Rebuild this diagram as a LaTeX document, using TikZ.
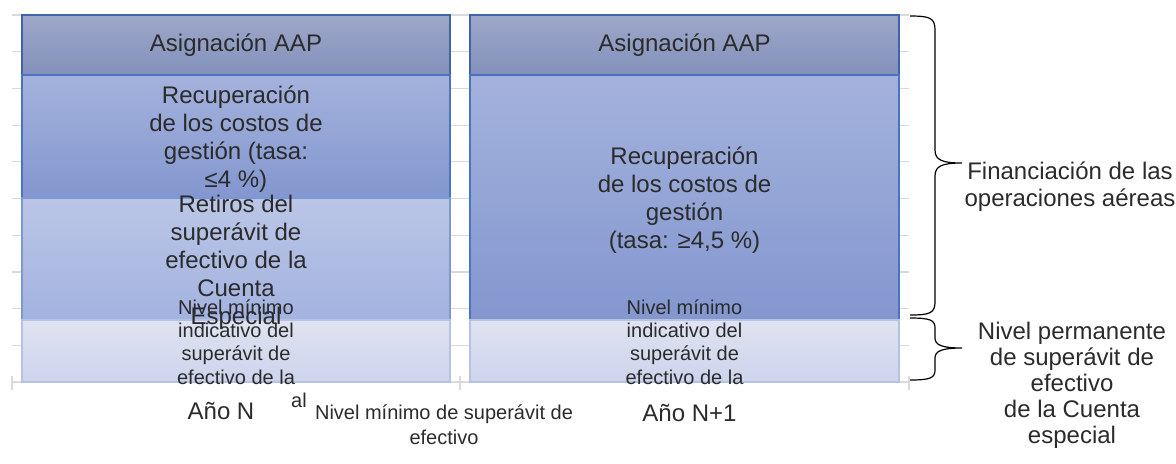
\documentclass[tikz,border=0pt]{standalone}
\usepackage{fontspec}
\setmainfont{Liberation Sans}
\definecolor{txtc}{HTML}{2B2B2B}
\definecolor{gridc}{HTML}{DADADA}
\definecolor{aapT}{HTML}{9DA7C8}
\definecolor{aapB}{HTML}{8391BB}
\definecolor{aapD}{HTML}{3F62A8}
\definecolor{recT}{HTML}{A4B2DC}
\definecolor{recB}{HTML}{8397CF}
\definecolor{recD}{HTML}{4A73C2}
\definecolor{retT}{HTML}{BBC6E6}
\definecolor{retB}{HTML}{A3B3E0}
\definecolor{retD}{HTML}{7A97D6}
\definecolor{nivT}{HTML}{DFE3F1}
\definecolor{nivB}{HTML}{CDD4EC}
\definecolor{nivD}{HTML}{B4C2E6}
\tikzset{
  txt/.style={inner sep=0pt, align=center, text=txtc, font=\fontsize{12}{14}\selectfont},
  smalltxt/.style={inner sep=0pt, align=center, text=txtc, font=\fontsize{10}{11.7}\selectfont},
  aapbox/.style={draw=aapD, line width=0.6pt, top color=aapT, bottom color=aapB},
  recbox/.style={draw=recD, line width=0.6pt, top color=recT, bottom color=recB},
  retbox/.style={draw=retD, line width=0.6pt, top color=retT, bottom color=retB},
  nivbox/.style={draw=nivD, line width=0.6pt, top color=nivT, bottom color=nivB},
  gridline/.style={draw=gridc, line width=0.6pt},
  bracepath/.style={draw=black, line width=0.6pt},
}
\begin{document}
\begin{tikzpicture}[x=0.5pt, y=-0.5pt]
\useasboundingbox (0,0) rectangle (1176,463);
% grid
\foreach \i in {0,...,9} {
  \draw[gridline] (12,15+36.7*\i) -- (909,15+36.7*\i);
}
% axis
\draw[gridline] (12,382) -- (909,382);
\foreach \xx in {12,460,909} { \draw[gridline] (\xx,376) -- (\xx,390); }
% left bar
\draw[aapbox] (22,15) rectangle (450,75);
\draw[recbox] (22,75) rectangle (450,198);
\draw[retbox] (22,198) rectangle (450,320);
\draw[nivbox] (22,320) rectangle (450,382);
% right bar
\draw[aapbox] (470,15) rectangle (899,75);
\draw[recbox] (470,75) rectangle (899,320);
\draw[nivbox] (470,320) rectangle (899,382);
% texts left
\node[txt] (aapL) at (236,45) {Asignación AAP};
\node[txt] (recL) at (236,139) {Recuperación\\de los costos de\\gestión (tasa:\\≤4 \%)};
\node[txt] (retL) at (236,262) {Retiros del\\superávit de\\efectivo de la\\Cuenta\\Especial};
\node[smalltxt] (nivL) at (236,342) {Nivel mínimo\\indicativo del\\superávit de\\efectivo de la};
\node[smalltxt] (alL) at (299,400) {al};
% texts right
\node[txt] (aapR) at (684.5,45) {Asignación AAP};
\node[txt] (recR) at (684.5,200) {Recuperación\\de los costos de\\gestión\\(tasa: ≥4,5 \%)};
\node[smalltxt] (nivR) at (684.5,342) {Nivel mínimo\\indicativo del\\superávit de\\efectivo de la};
% axis labels
\node[txt] (yN) at (221,411) {Año N};
\node[txt] (yN1) at (689.5,413) {Año N+1};
\node[smalltxt, font=\fontsize{10}{12.5}\selectfont] (leg) at (444,424.5) {Nivel mínimo de superávit de\\efectivo};
% braces
\draw[bracepath] (910,16) .. controls (930,16) and (935,18) .. (935,30) -- (935,150)
  .. controls (935,160) and (942,163) .. (962,163)
  .. controls (942,163) and (935,166) .. (935,176) -- (935,302)
  .. controls (935,313) and (930,315) .. (910,315);
\draw[bracepath] (910,318) .. controls (930,318) and (935,320) .. (935,328) -- (935,338)
  .. controls (935,345) and (942,348) .. (962,348)
  .. controls (942,348) and (935,351) .. (935,358) -- (935,370)
  .. controls (935,378) and (930,380) .. (910,380);
\node[txt, font=\fontsize{12}{13.5}\selectfont] (fin) at (1070,187) {Financiación de las\\operaciones aéreas};
\node[txt, font=\fontsize{12}{13}\selectfont] (perm) at (1072,385) {Nivel permanente\\de superávit de\\efectivo\\de la Cuenta\\especial};
\end{tikzpicture}
\end{document}
